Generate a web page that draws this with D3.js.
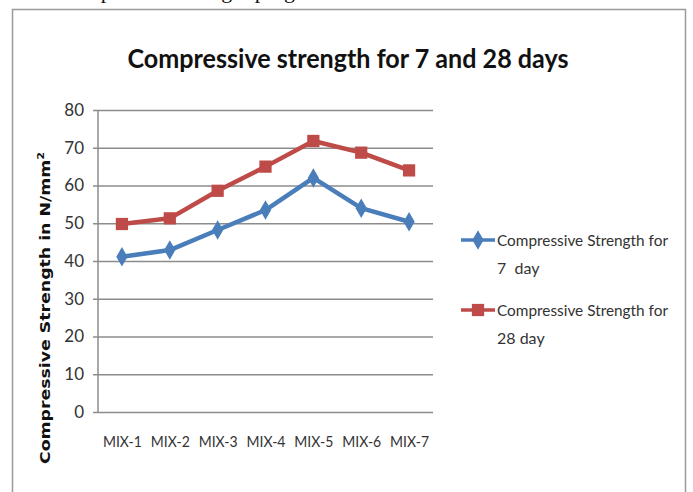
<!DOCTYPE html>
<html>
<head>
<meta charset="utf-8">
<script src="https://cdn.jsdelivr.net/npm/d3@7.9.0/dist/d3.min.js"></script>
<style>
  html, body { margin: 0; padding: 0; background: #fff; }
  svg { display: block; }
</style>
</head>
<body>
<svg id="chart" width="693" height="492"></svg>
<script>
const mixes = ['MIX-1', 'MIX-2', 'MIX-3', 'MIX-4', 'MIX-5', 'MIX-6', 'MIX-7'];
const day7 = [41.1, 42.9, 48.2, 53.5, 62.0, 54.0, 50.4];
const day28 = [49.8, 51.3, 58.6, 65.0, 71.8, 68.7, 64.0];
const yTicks = [0, 10, 20, 30, 40, 50, 60, 70, 80];
const seriesNames = [
  ['Compressive Strength for', '7  day'],
  ['Compressive Strength for', '28 day'],
];

const BLUE = '#4a7ebb';
const RED = '#be4b48';
const LABEL_FONT = 'Lato, "Open Sans", sans-serif';

const svg = d3.select('#chart');

// bit of the page text above the chart, cut off by the crop
svg.append('text')
  .attr('x', 58).attr('y', -2)
  .attr('font-family', '"Liberation Serif", serif')
  .attr('font-size', 22)
  .attr('fill', '#111')
  .text('Compressive strength progress for mixes');

// chart frame
svg.append('rect')
  .attr('x', 12.5).attr('y', 9.5)
  .attr('width', 673).attr('height', 500)
  .attr('fill', '#fff')
  .attr('stroke', '#9a9a9a')
  .attr('stroke-width', 1.5);

svg.append('text')
  .attr('x', 348).attr('y', 68)
  .attr('text-anchor', 'middle')
  .attr('font-family', LABEL_FONT)
  .attr('font-weight', 'bold')
  .attr('font-size', 27)
  .attr('fill', '#111')
  .attr('textLength', 441)
  .attr('lengthAdjust', 'spacingAndGlyphs')
  .text('Compressive strength for 7 and 28 days');

const x = d3.scalePoint().domain(mixes).range([98, 433]).padding(0.5);
const y = d3.scaleLinear().domain([0, 80]).range([412, 110]);

// gridlines + y axis
const yAxis = d3.axisLeft(y).tickValues(yTicks).tickSize(-335).tickPadding(14).tickFormat(d3.format('d'));
const gy = svg.append('g').attr('transform', 'translate(98,0)').call(yAxis);
gy.select('.domain').remove();
gy.selectAll('.tick line').attr('stroke', '#8c8c8c').attr('stroke-width', 1.5).attr('x1', -5);
gy.selectAll('.tick text')
  .attr('font-family', LABEL_FONT)
  .attr('font-size', 17)
  .attr('fill', '#333');

svg.append('line')
  .attr('x1', 98).attr('x2', 98)
  .attr('y1', 110).attr('y2', 412)
  .attr('stroke', '#8c8c8c').attr('stroke-width', 1.5);

// x labels
const xAxis = d3.axisBottom(x).tickSize(0).tickPadding(24);
const gx = svg.append('g').attr('transform', 'translate(0,412)').call(xAxis);
gx.select('.domain').remove();
gx.selectAll('.tick text')
  .attr('font-family', LABEL_FONT)
  .attr('font-size', 15.5)
  .attr('fill', '#333')
  .attr('textLength', 39)
  .attr('lengthAdjust', 'spacingAndGlyphs');

// y axis title
svg.append('text')
  .attr('transform', 'translate(50,308) rotate(-90)')
  .attr('text-anchor', 'middle')
  .attr('font-family', '"DejaVu Sans", sans-serif')
  .attr('font-weight', 'bold')
  .attr('font-size', 14)
  .attr('fill', '#111')
  .attr('textLength', 312)
  .attr('lengthAdjust', 'spacingAndGlyphs')
  .html('Compressive Strength in N/mm<tspan dy="-6" font-size="9">2</tspan>');

const line = d3.line().x((d, i) => x(mixes[i])).y(d => y(d));

const diamond = d3.symbol().type(d3.symbolDiamond).size(110);
const square = d3.symbol().type(d3.symbolSquare).size(150);

const series = [
  { values: day7, color: BLUE, shape: diamond },
  { values: day28, color: RED, shape: square },
];

series.forEach(s => {
  svg.append('path')
    .datum(s.values)
    .attr('d', line)
    .attr('fill', 'none')
    .attr('stroke', s.color)
    .attr('stroke-width', 4.5)
    .attr('stroke-linejoin', 'round');
  svg.selectAll(null)
    .data(s.values)
    .join('path')
    .attr('transform', (d, i) => `translate(${x(mixes[i])},${y(d)})`)
    .attr('d', s.shape)
    .attr('fill', s.color);
});

// legend
const legendRows = [240, 310];
series.forEach((s, i) => {
  const ly = legendRows[i];
  svg.append('line')
    .attr('x1', 461).attr('x2', 495)
    .attr('y1', ly).attr('y2', ly)
    .attr('stroke', s.color).attr('stroke-width', 3.5);
  svg.append('path')
    .attr('transform', `translate(478,${ly})`)
    .attr('d', s.shape)
    .attr('fill', s.color);
  const t = svg.append('text')
    .attr('font-family', LABEL_FONT)
    .attr('font-size', 16)
    .attr('fill', '#333');
  seriesNames[i].forEach((txt, j) => {
    const ts = t.append('tspan')
      .attr('x', 497)
      .attr('y', ly + 6 + j * 28)
      .style('white-space', 'pre')
      .text(txt);
    if (j === 0) ts.attr('textLength', 171).attr('lengthAdjust', 'spacingAndGlyphs');
  });
});
</script>
</body>
</html>
